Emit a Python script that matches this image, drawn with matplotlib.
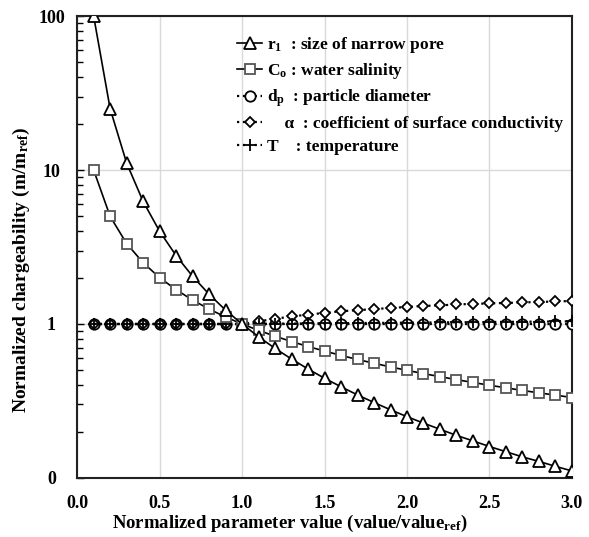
import matplotlib
matplotlib.use("agg")
import matplotlib.pyplot as plt
from matplotlib.ticker import FixedLocator, FixedFormatter, LogLocator, NullFormatter

plt.rcParams['font.family'] = ['Liberation Serif', 'DejaVu Serif']
plt.rcParams['font.weight'] = 'bold'
plt.rcParams['mathtext.fontset'] = 'custom'
plt.rcParams['mathtext.rm'] = 'Liberation Serif:bold'
plt.rcParams['mathtext.it'] = 'Liberation Serif:bold'
plt.rcParams['mathtext.bf'] = 'Liberation Serif:bold'

# normalized parameter values
x_vals = [0.1, 0.2, 0.3, 0.4, 0.5, 0.6, 0.7, 0.8, 0.9, 1.0,
          1.1, 1.2, 1.3, 1.4, 1.5, 1.6, 1.7, 1.8, 1.9, 2.0,
          2.1, 2.2, 2.3, 2.4, 2.5, 2.6, 2.7, 2.8, 2.9, 3.0]

# normalized chargeability
r1_vals = [100, 25, 11.1, 6.25, 4.0, 2.78, 2.04, 1.56, 1.23, 1.0,
           0.826, 0.694, 0.592, 0.510, 0.444, 0.391, 0.346, 0.309, 0.277, 0.25,
           0.227, 0.207, 0.189, 0.174, 0.160, 0.148, 0.137, 0.128, 0.119, 0.111]
c0_vals = [10, 5.0, 3.33, 2.5, 2.0, 1.67, 1.43, 1.25, 1.11, 1.0,
           0.909, 0.833, 0.769, 0.714, 0.667, 0.625, 0.588, 0.556, 0.526, 0.5,
           0.476, 0.455, 0.435, 0.417, 0.4, 0.385, 0.370, 0.357, 0.345, 0.333]
dp_vals = [1.0] * 30
alpha_vals = [1.0, 1.0, 1.0, 1.0, 1.0, 1.0, 1.0, 1.0, 1.0, 1.0,
              1.04, 1.08, 1.12, 1.15, 1.18, 1.21, 1.23, 1.25, 1.27, 1.29,
              1.31, 1.32, 1.34, 1.35, 1.36, 1.37, 1.38, 1.39, 1.40, 1.41]
t_vals = [1.0, 1.0, 1.0, 1.0, 1.0, 1.0, 1.0, 1.0, 1.0, 1.0,
          1.002, 1.004, 1.006, 1.008, 1.01, 1.012, 1.014, 1.016, 1.018, 1.02,
          1.022, 1.024, 1.026, 1.028, 1.03, 1.032, 1.034, 1.036, 1.038, 1.04]

y_ticks = [0.1, 1, 10, 100]
y_tick_labels = ['0', '1', '10', '100']
x_ticks = [0.0, 0.5, 1.0, 1.5, 2.0, 2.5, 3.0]

fig = plt.figure(figsize=(5.89, 5.37), dpi=100)
ax = fig.add_axes([0.131, 0.110, 0.840, 0.860])

ax.plot(x_vals, r1_vals, '-', color='black', lw=1.2, marker='^', ms=9,
        mfc='white', mec='black', mew=1.3, label=r'$\mathbf{r_1}$  : size of narrow pore', zorder=5)
ax.plot(x_vals, c0_vals, '-', color='black', lw=1.2, marker='s', ms=7.5,
        mfc='white', mec='#555555', mew=1.3, label=r'C$_\mathbf{o}$ : water salinity', zorder=4)
ax.plot(x_vals, dp_vals, ':', color='black', lw=1.6, marker='o', ms=7.5,
        mfc='white', mec='black', mew=1.3, label=r'd$_\mathbf{p}$  : particle diameter', zorder=3)
ax.plot(x_vals, alpha_vals, ':', color='black', lw=1.6, marker='D', ms=5,
        mfc='white', mec='black', mew=1.3, label='    α  : coefficient of surface conductivity', zorder=3)
ax.plot(x_vals, t_vals, ':', color='black', lw=1.6, marker='+', ms=8,
        mec='black', mew=1.3, label='T    : temperature', zorder=3)

ax.set_yscale('log')
ax.set_ylim(0.1, 100)
ax.set_xlim(0.0, 3.0)
ax.yaxis.set_major_locator(FixedLocator(y_ticks))
ax.yaxis.set_major_formatter(FixedFormatter(y_tick_labels))
ax.yaxis.set_minor_locator(LogLocator(base=10, subs=range(2, 10)))
ax.yaxis.set_minor_formatter(NullFormatter())
ax.set_xticks(x_ticks)
ax.set_xticklabels(['%.1f' % v for v in x_ticks])

ax.grid(True, which='major', color='#d9d9d9', lw=1.0)
ax.set_axisbelow(True)
ax.tick_params(axis='x', length=0, labelsize=13, pad=12)
ax.tick_params(axis='y', which='major', direction='in', length=5, width=1, labelsize=13, pad=18.5)
ax.tick_params(axis='y', which='minor', direction='in', length=4, width=1)
for lbl in ax.get_yticklabels():
    lbl.set_horizontalalignment('center')
for sp in ax.spines.values():
    sp.set_linewidth(1.5)
    sp.set_color('#222222')

ax.set_xlabel(r'Normalized parameter value (value/value$_\mathbf{ref}$)', fontsize=13.5, fontweight='bold')
ax.set_ylabel(r'Normalized chargeability (m/m$_\mathbf{ref}$)', fontsize=14, fontweight='bold')
ax.xaxis.set_label_coords(0.43, -0.075)
ax.yaxis.set_label_coords(-0.092, 0.45)

leg = ax.legend(loc='upper left', bbox_to_anchor=(0.31, 0.975), frameon=False,
                fontsize=12.5, handlelength=1.4, handletextpad=0.3, labelspacing=0.38,
                borderaxespad=0)
for t in leg.get_texts():
    t.set_fontweight('bold')

fig.savefig('out.png', dpi=100)
